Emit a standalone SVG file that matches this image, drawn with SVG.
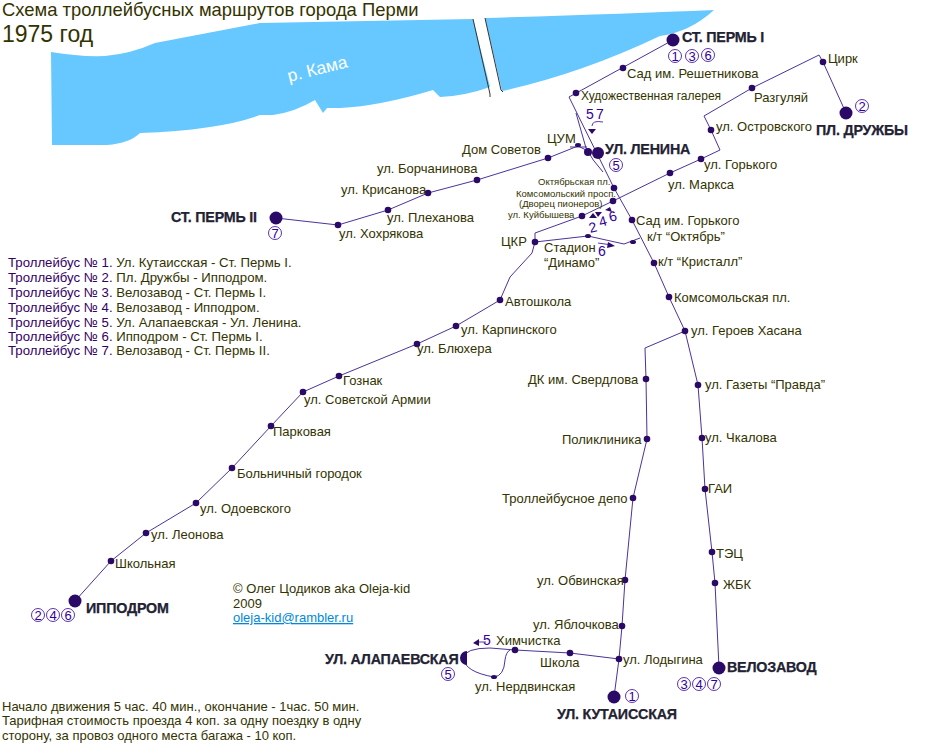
<svg xmlns="http://www.w3.org/2000/svg" width="947" height="755" viewBox="0 0 947 755">
<style>
text{font-family:"Liberation Sans",Arial,sans-serif;font-size:13px;fill:#333300}
.t{font-weight:bold;font-size:14.3px;fill:#222233;letter-spacing:-.2px;stroke:#222233;stroke-width:.25px}
.s{font-size:9.5px}
.v{font-size:13.2px}
.n{fill:#330066}
.r{fill:#fff;stroke:#330099;stroke-width:.8}
.c{fill:#330099;font-size:14px;text-anchor:middle}
.o{font-size:13px}
.l{fill:none;stroke:#4b3399;stroke-width:1}
.d{fill:#2a0a66}
.b{fill:none;stroke:#333;stroke-width:1}
</style>
<path fill="#66c8ff" d="M51 52Q80 57 105 56Q130 54 155 43L260 23L473 19L490 87Q465 96 440 97L433 90Q380 106 340 108L327 108L323 113L315 100Q295 112 273 115L260 115Q220 130 140 133Q130 143 107 145L52 145Z"/>
<path fill="#66c8ff" d="M485 18Q620 14 714 10Q690 32 660 36Q580 74 502 91Z"/>
<path class="b" d="M473 19L490 94V97M485 18L501 90L503 92"/>
<text x="289" y="82" transform="rotate(-14 289 82)" style="fill:#fff;font-size:17.5px">р. Кама</text>
<text x="2" y="16" style="font-size:18.4px">Схема троллейбусных маршрутов города Перми</text>
<text x="2" y="42" style="font-size:23px">1975 год</text>
<g id="connectors" class="l">
<path d="M673 40L569 97L614 188L632 220L654 263L669 297L685 331L698 385L702 438L705 489L712 552L715 583L719 668"/>
<path d="M576 113L586 148Q592 160 603 172"/>
<path d="M276 218L338 225L388 210L428 193L477 180L548 158L578 146L588 151"/>
<path d="M570 147Q580 147 587 147"/>
<path d="M846 113L823 62L819 55L752 88L704 116L711 130L720 150L701 159L670 173L613 201L582 216L535 233V242L532 253L510 277L500 300L456 326L417 344L339 376L303 392L271 426L232 468L196 503L146 533L111 561L75 601"/>
<path d="M535 242L588 236L624 244L640 238"/>
<path d="M685 331L645 348L646 379L647 439L633 498L625 580L622 626L619 659L614 697"/>
<path d="M619 659L570 653L515 650L490 648Q465 648 463 658Q465 672 494 677Q504 676 505 660Q506 652 510 650"/>
</g>
<g id="stations">
<g class="d">
<circle cx="623" cy="68" r="3.3"/><circle cx="576" cy="93" r="3.3"/><circle cx="711" cy="130" r="3.3"/><circle cx="752" cy="88" r="3.3"/><circle cx="823" cy="62" r="3.3"/><circle cx="701" cy="159" r="3.3"/><circle cx="670" cy="173" r="3.3"/><circle cx="614" cy="188" r="3.3"/><circle cx="613" cy="201" r="3.3"/><circle cx="582" cy="216" r="3.3"/><circle cx="632" cy="220" r="3.3"/><circle cx="654" cy="263" r="3.3"/><circle cx="669" cy="297" r="3.3"/><circle cx="685" cy="331" r="3.3"/><circle cx="698" cy="385" r="3.3"/><circle cx="702" cy="438" r="3.3"/><circle cx="705" cy="489" r="3.3"/><circle cx="712" cy="552" r="3.3"/><circle cx="715" cy="583" r="3.3"/><circle cx="646" cy="379" r="3.3"/><circle cx="647" cy="439" r="3.3"/><circle cx="633" cy="498" r="3.3"/><circle cx="625" cy="580" r="3.3"/><circle cx="622" cy="626" r="3.3"/><circle cx="619" cy="659" r="3.3"/><circle cx="570" cy="653" r="3.3"/><circle cx="515" cy="650" r="3.3"/><circle cx="338" cy="225" r="3.3"/><circle cx="388" cy="210" r="3.3"/><circle cx="428" cy="193" r="3.3"/><circle cx="477" cy="180" r="3.3"/><circle cx="548" cy="158" r="3.3"/><circle cx="535" cy="242" r="3.3"/><circle cx="500" cy="300" r="3.3"/><circle cx="456" cy="326" r="3.3"/><circle cx="417" cy="344" r="3.3"/><circle cx="339" cy="376" r="3.3"/><circle cx="303" cy="392" r="3.3"/><circle cx="271" cy="426" r="3.3"/><circle cx="232" cy="468" r="3.3"/><circle cx="196" cy="503" r="3.3"/><circle cx="146" cy="533" r="3.3"/><circle cx="111" cy="561" r="3.3"/>
<ellipse cx="578" cy="145" rx="3" ry="2"/><ellipse cx="588" cy="236" rx="3" ry="2"/><ellipse cx="633" cy="242" rx="3" ry="2"/><ellipse cx="494" cy="677" rx="3" ry="2"/>
<circle cx="673" cy="40" r="6.5"/><circle cx="846" cy="113" r="6.5"/><circle cx="276" cy="218" r="6.5"/><circle cx="75" cy="601" r="6.5"/><circle cx="719" cy="668" r="6.5"/><circle cx="614" cy="697" r="6.5"/>
<circle cx="598" cy="153" r="6"/><circle cx="588" cy="152" r="4"/>
<path d="M467 651A7 7 0 0 0 467 665Z"/>
<path d="M588 129H596L592 134ZM589 218L593 213L597 218ZM595 212H602L598 217ZM605 210L610 207L612 212ZM608 242L615 246L607 248ZM473 643L479 639V646Z"/>
</g>
</g>
<path fill="none" stroke="#330099" stroke-width=".8" d="M592 126Q592 120 603 122M598 243L612 245M479 642H486"/>
<g id="labels">
<text x="627" y="78">Сад им. Решетникова</text>
<text x="581" y="100" style="font-size:12px">Художественная галерея</text>
<text x="716" y="131">ул. Островского</text>
<text x="828" y="63">Цирк</text>
<text x="754" y="102">Разгуляй</text>
<text x="704" y="169">ул. Горького</text>
<text x="668" y="189">ул. Маркса</text>
<text x="636" y="225">Сад им. Горького</text>
<text x="647" y="241">к/т “Октябрь”</text>
<text x="658" y="266">к/т “Кристалл”</text>
<text x="674" y="302">Комсомольская пл.</text>
<text x="691" y="335">ул. Героев Хасана</text>
<text x="705" y="389">ул. Газеты “Правда”</text>
<text x="705" y="442">ул. Чкалова</text>
<text x="708" y="493">ГАИ</text>
<text x="716" y="558">ТЭЦ</text>
<text x="723" y="589">ЖБК</text>
<text x="528" y="384">ДК им. Свердлова</text>
<text x="562" y="444">Поликлиника</text>
<text x="502" y="503">Троллейбусное депо</text>
<text x="537" y="585">ул. Обвинская</text>
<text x="533" y="629">ул. Яблочкова</text>
<text x="623" y="664">ул. Лодыгина</text>
<text x="496" y="645">Химчистка</text>
<text x="540" y="667">Школа</text>
<text x="475" y="691">ул. Нердвинская</text>
<text x="462" y="154">Дом Советов</text>
<text x="547" y="143">ЦУМ</text>
<text x="377" y="173">ул. Борчанинова</text>
<text x="341" y="194">ул. Крисанова</text>
<text x="387" y="222">ул. Плеханова</text>
<text x="339" y="238">ул. Хохрякова</text>
<text x="538" y="185" class="s">Октябрьская пл.</text>
<text x="516" y="197" class="s">Комсомольский просп.</text>
<text x="519" y="207" class="s">(Дворец пионеров)</text>
<text x="508" y="218" class="s">ул. Куйбышева</text>
<text x="501" y="246">ЦКР</text>
<text x="544" y="252">Стадион</text>
<text x="544" y="267">“Динамо”</text>
<text x="505" y="306">Автошкола</text>
<text x="461" y="334">ул. Карпинского</text>
<text x="417" y="353">ул. Блюхера</text>
<text x="343" y="385">Гознак</text>
<text x="304" y="404">ул. Советской Армии</text>
<text x="273" y="436">Парковая</text>
<text x="237" y="478">Больничный городок</text>
<text x="200" y="513">ул. Одоевского</text>
<text x="151" y="539">ул. Леонова</text>
<text x="115" y="568">Школьная</text>
<text x="682" y="42" class="t">СТ. ПЕРМЬ I</text>
<text x="816" y="135" class="t">ПЛ. ДРУЖБЫ</text>
<text x="605" y="154" class="t">УЛ. ЛЕНИНА</text>
<text x="171" y="222" class="t">СТ. ПЕРМЬ II</text>
<text x="86" y="613" class="t">ИППОДРОМ</text>
<text x="727" y="672" class="t">ВЕЛОЗАВОД</text>
<text x="325" y="664" class="t">УЛ. АЛАПАЕВСКАЯ</text>
<text x="557" y="719" class="t">УЛ. КУТАИССКАЯ</text>
</g>
<g id="route-numbers">
<circle class="r" cx="675" cy="56" r="6.5"/><circle class="r" cx="692" cy="56" r="6.5"/><circle class="r" cx="708" cy="55" r="6.5"/>
<circle class="r" cx="862" cy="106" r="6.5"/><circle class="r" cx="616" cy="165" r="6.5"/><circle class="r" cx="275" cy="233" r="6.5"/>
<circle class="r" cx="38" cy="615" r="6.5"/><circle class="r" cx="53" cy="615" r="6.5"/><circle class="r" cx="68" cy="615" r="6.5"/>
<circle class="r" cx="448" cy="674" r="6.5"/><circle class="r" cx="632" cy="696" r="6.5"/>
<circle class="r" cx="684" cy="684" r="6.5"/><circle class="r" cx="699" cy="684" r="6.5"/><circle class="r" cx="714" cy="684" r="6.5"/>
<text class="c o" x="675" y="61">1</text><text class="c o" x="692" y="61">3</text><text class="c o" x="708" y="60">6</text>
<text class="c o" x="862" y="111">2</text><text class="c o" x="616" y="170">5</text><text class="c o" x="275" y="238">7</text>
<text class="c o" x="38" y="620">2</text><text class="c o" x="53" y="620">4</text><text class="c o" x="68" y="620">6</text>
<text class="c o" x="448" y="679">5</text><text class="c o" x="632" y="701">1</text>
<text class="c o" x="684" y="689">3</text><text class="c o" x="699" y="689">4</text><text class="c o" x="714" y="689">7</text>
<text class="c" x="590" y="119">5</text><text class="c" x="600" y="119">7</text>
<text class="c" x="594" y="232" transform="rotate(-15 594 232)">2</text><text class="c" x="604" y="226" transform="rotate(-15 604 226)">4</text><text class="c" x="614" y="221" transform="rotate(-15 614 221)">6</text>
<text class="c" x="602" y="256">6</text><text class="c" x="487" y="645">5</text>
</g>
<g id="legend">
<text class="v" x="8" y="267"><tspan class="n">Троллейбус № 1.</tspan> Ул. Кутаисская - Ст. Пермь I.</text>
<text class="v" x="8" y="282"><tspan class="n">Троллейбус № 2.</tspan> Пл. Дружбы - Ипподром.</text>
<text class="v" x="8" y="297"><tspan class="n">Троллейбус № 3.</tspan> Велозавод - Ст. Пермь I.</text>
<text class="v" x="8" y="312"><tspan class="n">Троллейбус № 4.</tspan> Велозавод - Ипподром.</text>
<text class="v" x="8" y="327"><tspan class="n">Троллейбус № 5.</tspan> Ул. Алапаевская - Ул. Ленина.</text>
<text class="v" x="8" y="341"><tspan class="n">Троллейбус № 6.</tspan> Ипподром - Ст. Пермь I.</text>
<text class="v" x="8" y="355"><tspan class="n">Троллейбус № 7.</tspan> Велозавод - Ст. Пермь II.</text>
<text x="233" y="593">© Олег Цодиков aka Oleja-kid</text>
<text x="233" y="608">2009</text>
<text x="233" y="622" style="fill:#0088dd;text-decoration:underline">oleja-kid@rambler.ru</text>
<text x="2" y="711">Начало движения 5 час. 40 мин., окончание - 1час. 50 мин.</text>
<text x="2" y="725">Тарифная стоимость проезда 4 коп. за одну поездку в одну</text>
<text x="2" y="740">сторону, за провоз одного места багажа - 10 коп.</text>
</g>
</svg>
